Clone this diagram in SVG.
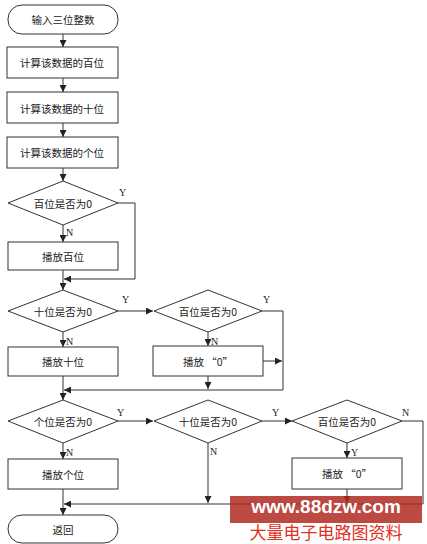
<svg xmlns="http://www.w3.org/2000/svg" width="427" height="544" viewBox="0 0 427 544">
<defs>
<marker id="ah" viewBox="0 0 10 10" refX="10" refY="5" markerWidth="7" markerHeight="7" markerUnits="userSpaceOnUse" orient="auto">
<path d="M0,0 L10,5 L0,10 z" fill="#222"/>
</marker>
<style>
.s{fill:#fff;stroke:#333;stroke-width:1}
.c{fill:none;stroke:#333;stroke-width:1;marker-end:url(#ah)}
.t{font-family:"Noto Sans CJK SC","Liberation Sans",sans-serif;font-size:10.5px;fill:#222;text-anchor:middle;dominant-baseline:central}
.y{font-family:"Liberation Serif",serif;font-size:10px;fill:#222}
</style>
</defs>
<rect width="427" height="544" fill="#fff"/>
<g id="connectors">
<line class="c" x1="63" y1="34" x2="63" y2="47"/>
<line class="c" x1="63" y1="78" x2="63" y2="92"/>
<line class="c" x1="63" y1="123" x2="63" y2="137"/>
<line class="c" x1="63" y1="168" x2="63" y2="181"/>
<line class="c" x1="63" y1="225" x2="63" y2="242"/>
<polyline class="c" points="118,203 135,203 135,279 64,279"/>
<line class="c" x1="63" y1="270" x2="63" y2="290"/>
<line class="c" x1="118" y1="311" x2="153" y2="311"/>
<line class="c" x1="63" y1="332" x2="63" y2="347"/>
<line class="c" x1="208" y1="332" x2="208" y2="346"/>
<polyline class="c" points="262,311 283,311 283,390 64,390"/>
<line class="c" x1="263" y1="361" x2="282" y2="361"/>
<line class="c" x1="208" y1="376" x2="208" y2="389"/>
<line class="c" x1="63" y1="376" x2="63" y2="400"/>
<line class="c" x1="118" y1="421" x2="153" y2="421"/>
<line class="c" x1="63" y1="443" x2="63" y2="459"/>
<line class="c" x1="262" y1="421" x2="292" y2="421"/>
<line class="c" x1="208" y1="443" x2="208" y2="503"/>
<line class="c" x1="347" y1="443" x2="347" y2="458"/>
<polyline class="c" points="402,421 423,421 423,504 64,504"/>
<line class="c" x1="347" y1="489" x2="347" y2="503"/>
<line class="c" x1="63" y1="489" x2="63" y2="515"/>
<text class="y" x="119" y="196">Y</text>
<text class="y" x="66" y="236">N</text>
<text class="y" x="122" y="303">Y</text>
<text class="y" x="66" y="345">N</text>
<text class="y" x="263" y="303">Y</text>
<text class="y" x="211" y="345">N</text>
<text class="y" x="117" y="416">Y</text>
<text class="y" x="66" y="456">N</text>
<text class="y" x="272" y="416">Y</text>
<text class="y" x="210" y="455">N</text>
<text class="y" x="402" y="416">N</text>
<text class="y" x="351" y="456">Y</text>
</g>
<g id="start"><rect class="s" x="8" y="5" width="110" height="29" rx="14" ry="14"/><text class="t" x="63" y="19">输入三位整数</text></g>
<g id="calc100"><rect class="s" x="7" y="47" width="111" height="31"/><text class="t" x="62" y="62">计算该数据的百位</text></g>
<g id="calc10"><rect class="s" x="7" y="92" width="111" height="31"/><text class="t" x="62" y="108">计算该数据的十位</text></g>
<g id="calc1"><rect class="s" x="7" y="137" width="111" height="31"/><text class="t" x="62" y="152">计算该数据的个位</text></g>
<g id="d1"><polygon class="s" points="63,181 118,203 63,225 8,203"/><text class="t" x="63" y="203">百位是否为0</text></g>
<g id="play100"><rect class="s" x="8" y="242" width="110" height="28"/><text class="t" x="63" y="256">播放百位</text></g>
<g id="d2"><polygon class="s" points="63,290 118,311 63,332 8,311"/><text class="t" x="63" y="311">十位是否为0</text></g>
<g id="d3"><polygon class="s" points="208,290 262,311 208,332 154,311"/><text class="t" x="208" y="311">百位是否为0</text></g>
<g id="play10"><rect class="s" x="8" y="347" width="110" height="29"/><text class="t" x="63" y="361">播放十位</text></g>
<g id="play0a"><rect class="s" x="153" y="346" width="110" height="30"/><text class="t" x="208" y="361">播放 “0”</text></g>
<g id="d4"><polygon class="s" points="63,400 118,421 63,443 8,421"/><text class="t" x="63" y="421">个位是否为0</text></g>
<g id="d5"><polygon class="s" points="208,400 262,421 208,443 154,421"/><text class="t" x="208" y="421">十位是否为0</text></g>
<g id="d6"><polygon class="s" points="347,400 402,421 347,443 292,421"/><text class="t" x="347" y="421">百位是否为0</text></g>
<g id="play1"><rect class="s" x="8" y="459" width="110" height="30"/><text class="t" x="63" y="474">播放个位</text></g>
<g id="play0b"><rect class="s" x="292" y="458" width="110" height="31"/><text class="t" x="347" y="473">播放 “0”</text></g>
<g id="end"><rect class="s" x="8" y="515" width="110" height="28" rx="14" ry="14"/><text class="t" x="63" y="529">返回</text></g>
<g id="watermark">
<rect x="230" y="496" width="192" height="27" fill="#b02a22" opacity="0.85"/>
<text x="326" y="513" font-family="'Liberation Sans',sans-serif" font-weight="bold" font-size="19" fill="#fff" text-anchor="middle">www.88dzw.com</text>
<text x="326" y="539" font-family="'Noto Sans CJK SC',sans-serif" font-size="17" fill="#e0301e" text-anchor="middle">大量电子电路图资料</text>
</g>
</svg>
